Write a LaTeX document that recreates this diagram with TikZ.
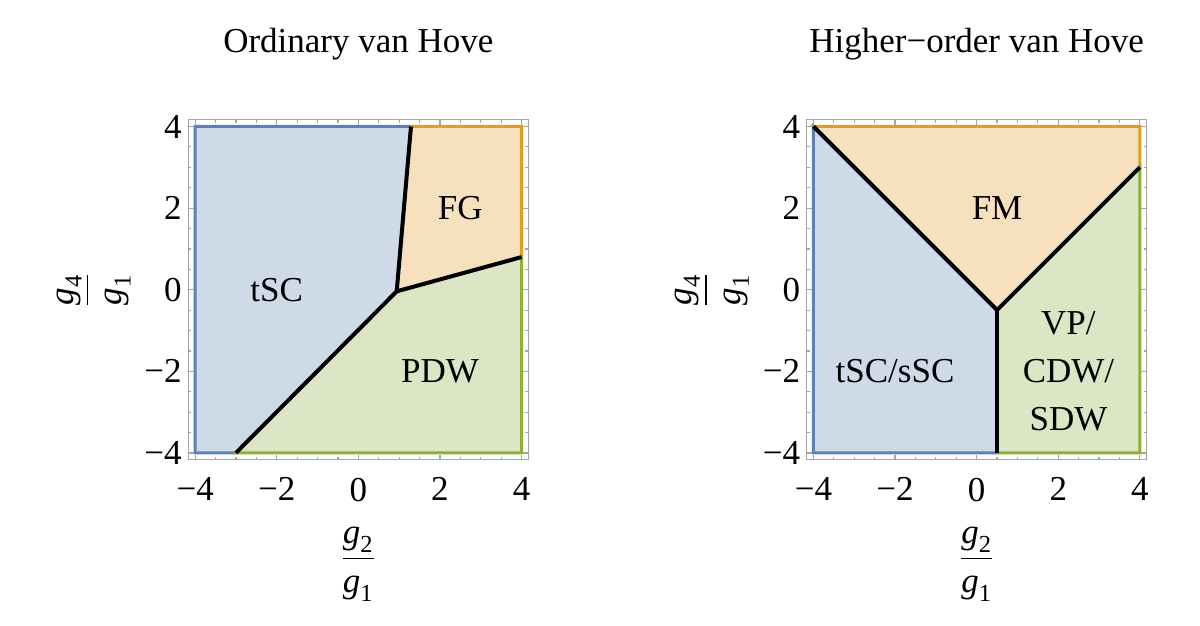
\documentclass[tikz,border=0pt]{standalone}
\usepackage{fontspec}
\usepackage{amsmath}
\setmainfont{Liberation Serif}
\definecolor{eblue}{RGB}{94,129,181}
\definecolor{fblue}{RGB}{206,218,232}
\definecolor{eorange}{RGB}{225,156,36}
\definecolor{forange}{RGB}{246,224,190}
\definecolor{egreen}{RGB}{143,176,50}
\definecolor{fgreen}{RGB}{221,230,196}
\definecolor{framegray}{RGB}{165,165,165}
\tikzset{
  txt/.style={font=\fontsize{17.5}{24}\selectfont},
  ticklab/.style={txt, inner sep=0pt},
  frameline/.style={draw=framegray, line width=0.6pt},
  bluereg/.style={fill=fblue, draw=eblue, line width=1.5pt},
  orangereg/.style={fill=forange, draw=eorange, line width=1.5pt},
  greenreg/.style={fill=fgreen, draw=egreen, line width=1.5pt},
  phaseline/.style={draw=black, line width=2pt},
}
\newcommand\plotframe[1]{%
  \draw[frameline] (-4.17,-4.17) rectangle (4.17,4.17);
  \foreach \tk in {-4,-2,0,2,4}{
    \draw[frameline] (\tk,-4.17) -- ++(0,0.13);
    \draw[frameline] (\tk,4.17) -- ++(0,-0.13);
    \draw[frameline] (-4.17,\tk) -- ++(0.13,0);
    \draw[frameline] (4.17,\tk) -- ++(-0.13,0);
  }
  \foreach \tk in {-3.5,-3,-2.5,-1.5,-1,-0.5,0.5,1,1.5,2.5,3,3.5}{
    \draw[frameline] (\tk,-4.17) -- ++(0,0.075);
    \draw[frameline] (\tk,4.17) -- ++(0,-0.075);
    \draw[frameline] (-4.17,\tk) -- ++(0.075,0);
    \draw[frameline] (4.17,\tk) -- ++(-0.075,0);
  }
  \foreach \tk/\lb in {-4/−4,-2/−2,0/0,2/2,4/4}{
    \node[ticklab, anchor=north] (#1x\tk) at (\tk,-4.6) {\lb};
    \node[ticklab, anchor=east] (#1y\tk) at (-4.32,\tk) {\lb};
  }
}
\newcommand\gfrac[2]{$\displaystyle\frac{\text{\itshape g}_{\text{#1}}}{\vphantom{\big(}\text{\itshape g}_{\text{#2}}}$}
\begin{document}
\begin{tikzpicture}[x=0.5pt,y=-0.5pt]
\useasboundingbox (0,0) rectangle (1200,626);
% titles
\node[txt, anchor=base] (title1) at (358.35,53) {Ordinary van Hove};
\node[txt, anchor=base] (title2) at (976.65,53) {Higher−order van Hove};
% axis labels
\node[txt] (xlab1) at (358.35,566) {\gfrac{2}{1}};
\node[txt, rotate=90] (ylab1) at (95.3,290) {\gfrac{4}{1}};
\node[txt] (xlab2) at (976.65,566) {\gfrac{2}{1}};
\node[txt, rotate=90] (ylab2) at (713.6,290) {\gfrac{4}{1}};
% left plot
\begin{scope}[shift={(358.35,289.7)}, x=20.4pt, y=20.4pt]
  \coordinate (Lk) at (0.94,-0.04);
  \coordinate (Lb) at (-3,-4);
  \coordinate (Lt) at (1.29,4);
  \coordinate (Lr) at (4,0.8);
  \filldraw[bluereg] (-4,-4) -- (Lb) -- (Lk) -- (Lt) -- (-4,4) -- cycle;
  \filldraw[orangereg] (Lt) -- (4,4) -- (Lr) -- (Lk) -- cycle;
  \filldraw[greenreg] (Lb) -- (4,-4) -- (Lr) -- (Lk) -- cycle;
  \draw[phaseline] (Lb) -- (Lk) -- (Lt);
  \draw[phaseline] (Lk) -- (Lr);
  \plotframe{L}
  \node[txt] (tSC) at (-2,0) {tSC};
  \node[txt] (FG) at (2.5,2) {FG};
  \node[txt] (PDW) at (2,-2) {PDW};
\end{scope}
% right plot
\begin{scope}[shift={(976.65,289.7)}, x=20.4pt, y=20.4pt]
  \coordinate (Rk) at (0.5,-0.5);
  \coordinate (Rtl) at (-4,4);
  \coordinate (Rr) at (4,3);
  \coordinate (Rb) at (0.5,-4);
  \filldraw[bluereg] (Rtl) -- (Rk) -- (Rb) -- (-4,-4) -- cycle;
  \filldraw[orangereg] (Rtl) -- (4,4) -- (Rr) -- (Rk) -- cycle;
  \filldraw[greenreg] (Rk) -- (Rr) -- (4,-4) -- (Rb) -- cycle;
  \draw[phaseline] (Rtl) -- (Rk) -- (Rr);
  \draw[phaseline] (Rk) -- (Rb);
  \plotframe{R}
  \node[txt] (FM) at (0.5,2) {FM};
  \node[txt] (tsSC) at (-2,-2) {tSC/sSC};
  \node[txt, align=center] (VP) at (2.25,-2) {VP/\\CDW/\\SDW};
\end{scope}
\end{tikzpicture}
\end{document}
